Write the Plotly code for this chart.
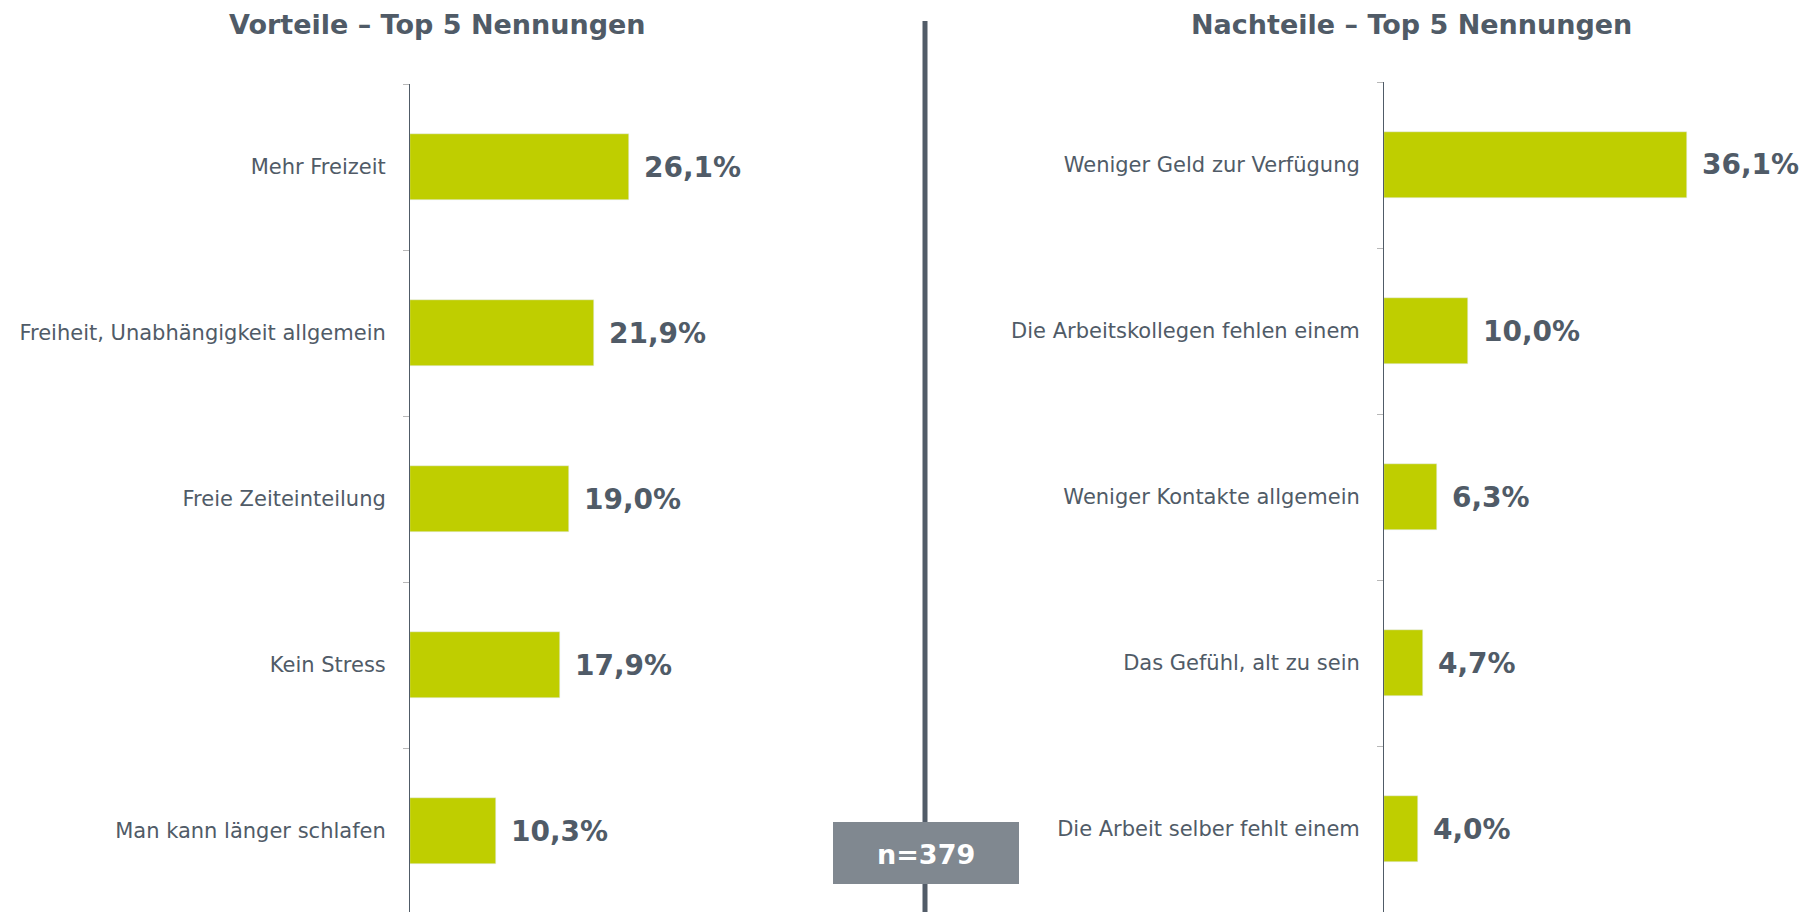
import plotly.graph_objects as go

# ---- data ----
vorteile_labels = ["Mehr Freizeit", "Freiheit, Unabhängigkeit allgemein", "Freie Zeiteinteilung",
                   "Kein Stress", "Man kann länger schlafen"]
vorteile_values = [26.1, 21.9, 19.0, 17.9, 10.3]

nachteile_labels = ["Weniger Geld zur Verfügung", "Die Arbeitskollegen fehlen einem",
                    "Weniger Kontakte allgemein", "Das Gefühl, alt zu sein",
                    "Die Arbeit selber fehlt einem"]
nachteile_values = [36.1, 10.0, 6.3, 4.7, 4.0]

title_left = "Vorteile – Top 5 Nennungen"
title_right = "Nachteile – Top 5 Nennungen"
n_label = "n=379"

# ---- style ----
W, H = 1816, 912
OFF = 8  # page body margin
FONT = "DejaVu Sans"
TXT = "#505b67"
BAR = "#bfce00"
PX_PER_PCT = 8.38
CAT_PX = 166.0

def fx(p):
    return (p - OFF) / W

def fy(p):
    return 1 - (p - OFF) / H

def fmt(v):
    return f"{v:.1f}".replace(".", ",") + "%"

fig = go.Figure()

fig.add_trace(go.Bar(x=vorteile_values, y=vorteile_labels, orientation="h",
                     marker_color=BAR, width=0.4, xaxis="x", yaxis="y",
                     hoverinfo="skip"))
fig.add_trace(go.Bar(x=nachteile_values, y=nachteile_labels, orientation="h",
                     marker_color=BAR, width=0.4, xaxis="x2", yaxis="y2",
                     hoverinfo="skip"))

# axis positions (pixel based, window coordinates)
lx0, lx1 = 410, 900
rx0, rx1 = 1384, 1816 + OFF
ltop, rtop = 84, 82
bottom = H + OFF

def yaxis_cfg(cats, top, anchor):
    h = bottom - top
    span = h / CAT_PX
    return dict(type="category", categoryorder="array", categoryarray=cats,
                range=[span - 0.5, -0.5], domain=[0, fy(top)],
                showline=True, linecolor=TXT, linewidth=1,
                ticks="outside", tickson="boundaries", ticklen=6, tickcolor="#b8b8b8",
                tickwidth=1, showgrid=False, zeroline=False,
                tickfont=dict(family=FONT, size=21, color=TXT),
                ticklabelstandoff=19, anchor=anchor, fixedrange=True)

def xaxis_cfg(x0, x1, anchor):
    return dict(domain=[fx(x0), fx(x1)], range=[0, (x1 - x0) / PX_PER_PCT],
                showgrid=False, zeroline=False, showticklabels=False, ticks="",
                showline=False, anchor=anchor, fixedrange=True)

fig.update_layout(
    width=W, height=H,
    margin=dict(l=0, r=0, t=0, b=0),
    paper_bgcolor="white", plot_bgcolor="white",
    showlegend=False, bargap=0,
    font=dict(family=FONT, color=TXT),
    xaxis=xaxis_cfg(lx0, lx1, "y"),
    xaxis2=xaxis_cfg(rx0, rx1, "y2"),
    yaxis=yaxis_cfg(vorteile_labels, ltop, "x"),
    yaxis2=yaxis_cfg(nachteile_labels, rtop, "x2"),
)

val_font = dict(family=FONT, size=28, color=TXT, weight="bold")
annotations = []
for lab, v in zip(vorteile_labels, vorteile_values):
    annotations.append(dict(x=v, y=lab, xref="x", yref="y", text=fmt(v), showarrow=False,
                            xanchor="left", yanchor="middle", xshift=13, font=val_font))
for lab, v in zip(nachteile_labels, nachteile_values):
    annotations.append(dict(x=v, y=lab, xref="x2", yref="y2", text=fmt(v), showarrow=False,
                            xanchor="left", yanchor="middle", xshift=13, font=val_font))

title_font = dict(family=FONT, size=27, color=TXT, weight="bold")
annotations.append(dict(x=fx(437), y=1, xref="paper", yref="paper", text=title_left,
                        showarrow=False, xanchor="center", yanchor="top", borderpad=0,
                        font=title_font))
annotations.append(dict(x=fx(1411), y=1, xref="paper", yref="paper", text=title_right,
                        showarrow=False, xanchor="center", yanchor="top", borderpad=0,
                        font=title_font))
annotations.append(dict(x=fx(926), y=fy(854), xref="paper", yref="paper", text=n_label,
                        showarrow=False, xanchor="center", yanchor="middle",
                        font=dict(family=FONT, size=27, color="white", weight="bold")))

shapes = [
    dict(type="line", xref="paper", yref="paper", x0=fx(925), x1=fx(925),
         y0=0, y1=fy(21), line=dict(color="#525c68", width=5), layer="above"),
    dict(type="rect", xref="paper", yref="paper", x0=fx(833), x1=fx(1019),
         y0=fy(884), y1=fy(822), fillcolor="#808890", line=dict(width=0),
         layer="above"),
]
fig.update_layout(annotations=annotations, shapes=shapes)

fig.write_html("out.html")
